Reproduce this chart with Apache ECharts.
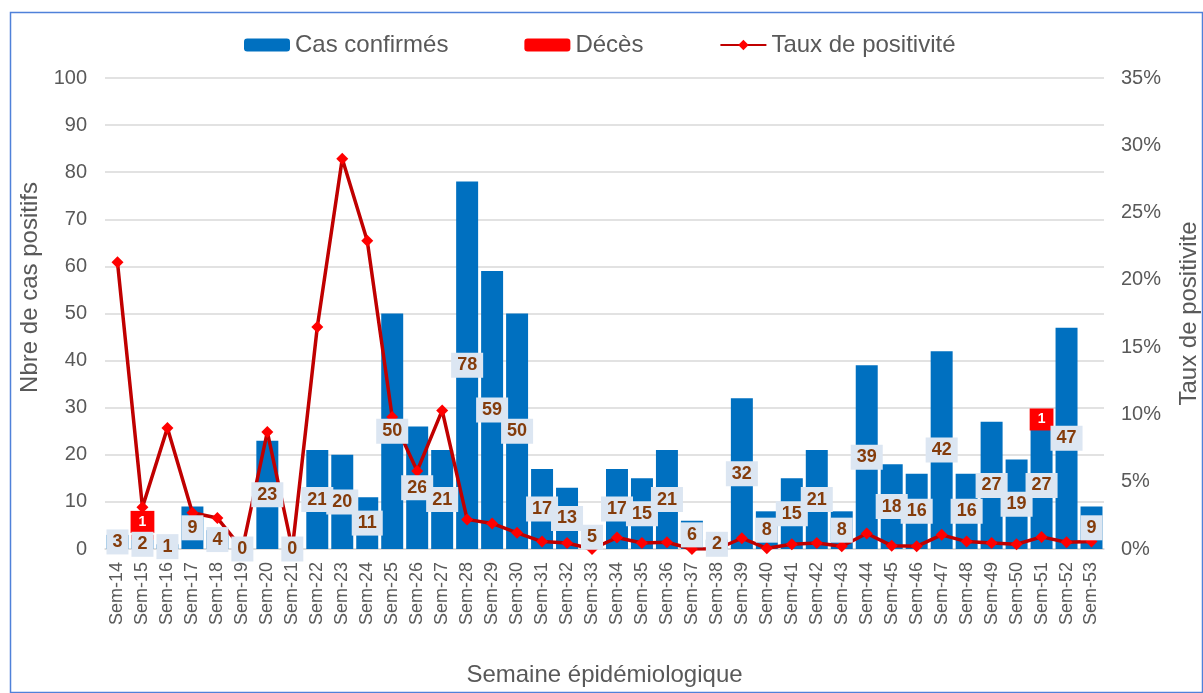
<!DOCTYPE html>
<html>
<head>
<meta charset="utf-8">
<script src="https://cdn.jsdelivr.net/npm/echarts@6/dist/echarts.min.js"></script>
<style>html,body{margin:0;padding:0;background:#fff}#c{width:1203px;height:693px}</style>
</head>
<body>
<div id="c"></div>
<script>
const weeks = ['Sem-14','Sem-15','Sem-16','Sem-17','Sem-18','Sem-19','Sem-20','Sem-21','Sem-22','Sem-23',
  'Sem-24','Sem-25','Sem-26','Sem-27','Sem-28','Sem-29','Sem-30','Sem-31','Sem-32','Sem-33',
  'Sem-34','Sem-35','Sem-36','Sem-37','Sem-38','Sem-39','Sem-40','Sem-41','Sem-42','Sem-43',
  'Sem-44','Sem-45','Sem-46','Sem-47','Sem-48','Sem-49','Sem-50','Sem-51','Sem-52','Sem-53'];
const cases = [3,2,1,9,4,0,23,0,21,20,
  11,50,26,21,78,59,50,17,13,5,
  17,15,21,6,2,32,8,15,21,8,
  39,18,16,42,16,27,19,27,47,9];
const deaths = [null,1,null,null,null,null,null,null,null,null,
  null,null,null,null,null,null,null,null,null,null,
  null,null,null,null,null,null,null,null,null,null,
  null,null,null,null,null,null,null,1,null,null];
const positivity = [21.3,3.1,9.0,2.7,2.3,0,8.7,0,16.5,29.0,
  22.9,9.8,5.8,10.3,2.2,1.9,1.2,0.55,0.45,0,
  0.85,0.45,0.5,0,0,0.8,0.05,0.35,0.45,0.2,
  1.15,0.25,0.2,1.05,0.55,0.45,0.35,0.9,0.5,0.55];
const leftTicks = {min:0, max:100, interval:10};
const rightTicks = {min:0, max:35, interval:5};

const FONT = '"Liberation Sans", Arial, sans-serif';
const GREY = '#595959';
const chart = echarts.init(document.getElementById('c'), null, {renderer:'canvas'});

const deathsData = deaths.map((v,i) => v == null ? null : {
  value: v,
  label: {position: cases[i] < 10 ? 'top' : 'inside', distance: 2}
});

chart.setOption({
  animation: false,
  textStyle: {fontFamily: FONT},
  graphic: [{
    type: 'rect', left: 8, top: 10, z: 100, silent: true,
    shape: {width: 1192, height: 680},
    style: {fill: 'none', stroke: '#4F81D9', lineWidth: 1.5}
  }],
  legend: {
    top: 28, left: 239,
    itemWidth: 46, itemHeight: 13, itemGap: 76,
    textStyle: {fontSize: 24, color: GREY, fontFamily: FONT},
    data: ['Cas confirmés', 'Décès', 'Taux de positivité']
  },
  grid: {left: 105, right: 99, top: 78, bottom: 144, containLabel: false, outerBoundsMode: 'none'},
  xAxis: {
    type: 'category', data: weeks,
    name: 'Semaine épidémiologique', nameLocation: 'middle', nameGap: 114,
    nameTextStyle: {fontSize: 24, color: GREY, fontFamily: FONT},
    axisLine: {lineStyle: {color: '#D9D9D9', width: 1.5}},
    axisTick: {show: false},
    axisLabel: {rotate: 90, fontSize: 18, color: GREY, margin: 13, interval: 0, fontFamily: FONT}
  },
  yAxis: [{
    type: 'value', min: leftTicks.min, max: leftTicks.max, interval: leftTicks.interval,
    name: 'Nbre de cas positifs', nameLocation: 'middle', nameGap: 47, nameRotate: 90,
    nameTextStyle: {fontSize: 24, color: GREY, fontFamily: FONT, padding: [0, 0, 0, 52]},
    axisLine: {show: false}, axisTick: {show: false},
    axisLabel: {fontSize: 20, color: GREY, margin: 18, fontFamily: FONT},
    splitLine: {lineStyle: {color: '#D9D9D9', width: 1.5}}
  }, {
    type: 'value', min: rightTicks.min, max: rightTicks.max, interval: rightTicks.interval,
    name: 'Taux de positivite', nameLocation: 'middle', nameGap: 73, nameRotate: 90,
    nameTextStyle: {fontSize: 24, color: GREY, fontFamily: FONT},
    axisLine: {show: false}, axisTick: {show: false},
    axisLabel: {fontSize: 20, color: GREY, margin: 17, formatter: '{value}%', fontFamily: FONT},
    splitLine: {show: false}
  }],
  series: [{
    name: 'Cas confirmés', type: 'bar', stack: 'a', data: cases,
    barCategoryGap: '12%', barGap: '-100%', z: 2,
    itemStyle: {color: '#0070C0'}
  }, {
    name: 'Décès', type: 'bar', stack: 'a', data: deathsData,
    barCategoryGap: '12%', barGap: '-100%', z: 4,
    itemStyle: {color: '#FF0000'},
    label: {
      show: true, color: '#fff', fontSize: 14, fontWeight: 'bold',
      backgroundColor: '#FF0000', padding: [4, 8, 4, 8], fontFamily: FONT
    }
  }, {
    name: 'Taux de positivité', type: 'line', yAxisIndex: 1, data: positivity, z: 3,
    symbol: 'diamond', symbolSize: 12,
    lineStyle: {color: '#C00000', width: 3.5},
    itemStyle: {color: '#FF0000'}
  }, {
    name: 'labels', type: 'bar', data: cases, z: 5, silent: true,
    barCategoryGap: '12%', barGap: '-100%',
    itemStyle: {color: 'rgba(0,0,0,0)'},
    label: {
      show: true, position: 'inside', color: '#843C0C', fontSize: 18, fontWeight: 'bold',
      backgroundColor: '#DCE6F2', padding: [4, 6, 3, 6], fontFamily: FONT
    }
  }]
});
</script>
</body>
</html>
